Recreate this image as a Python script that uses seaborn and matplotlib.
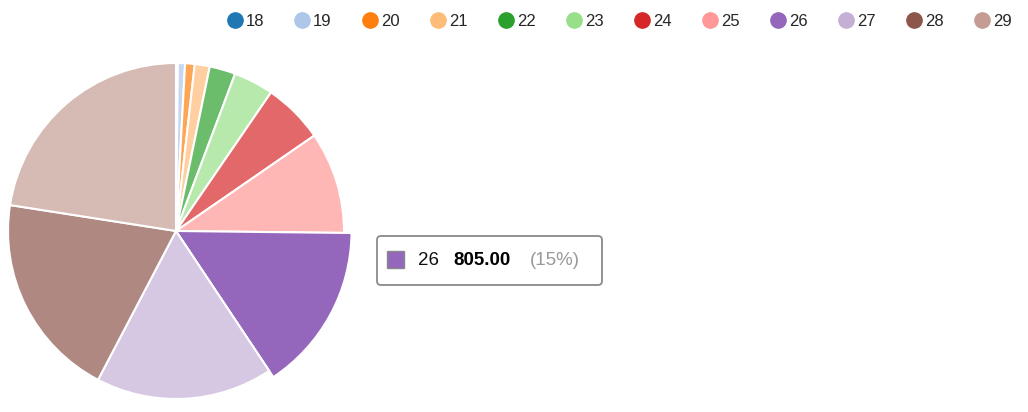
import numpy as np
import matplotlib
matplotlib.use("Agg")
import matplotlib.pyplot as plt
from matplotlib.lines import Line2D
from matplotlib.patches import FancyBboxPatch, Rectangle
import seaborn as sns

# data
categories = ["18", "19", "20", "21", "22", "23", "24", "25", "26", "27", "28", "29"]
values = [9, 36, 48, 75, 130, 200, 303, 510, 805, 887, 1030, 1173]
highlight = "26"

sns.set_theme(style="white")
plt.rcParams["font.family"] = ["Liberation Sans", "DejaVu Sans"]

palette = sns.color_palette("tab20", len(categories))
faded = [tuple(1 - 0.7 * (1 - c) for c in col) for col in palette]
slice_colors = [palette[i] if cat == highlight else faded[i]
                for i, cat in enumerate(categories)]

W, H = 1028, 412
fig = plt.figure(figsize=(W / 100, H / 100), dpi=100)

# pie axes: centre at (176, 231) px, radius 168 px
cx, cy, r = 176, 231, 168
half = 1.1 * r
ax = fig.add_axes([(cx - half) / W, (H - cy - half) / H, 2 * half / W, 2 * half / H])
wedges, _ = ax.pie(values, colors=slice_colors, startangle=90, counterclock=False,
                   wedgeprops=dict(edgecolor="white", linewidth=1.5))
for w, cat in zip(wedges, categories):
    if cat == highlight:
        w.set_radius(1.045)
ax.set_xlim(-1.1, 1.1)
ax.set_ylim(-1.1, 1.1)
ax.set_aspect("equal")
ax.axis("off")

# legend along the top
handles = [Line2D([0], [0], marker="o", linestyle="none", markersize=11,
                  markerfacecolor=palette[i], markeredgecolor=palette[i])
           for i in range(len(categories))]
fig.legend(handles, categories, loc="center right", bbox_to_anchor=(1020 / W, 1 - 21 / H),
           ncol=len(categories), frameon=False, fontsize=12,
           handletextpad=0.05, columnspacing=1.71, handlelength=1.2, borderpad=0)

# tooltip overlay in pixel coordinates
ov = fig.add_axes([0, 0, 1, 1], zorder=5)
ov.set_xlim(0, W)
ov.set_ylim(H, 0)
ov.axis("off")
idx = categories.index(highlight)
total = sum(values)
ov.add_patch(FancyBboxPatch((377, 236), 225, 49, boxstyle="round,pad=0,rounding_size=4",
                            facecolor="white", edgecolor="#8a8a8a", linewidth=1.3))
ov.add_patch(Rectangle((387, 251), 17, 17, facecolor=palette[idx], edgecolor="#888888",
                       linewidth=1))
ov.text(418, 260.5, highlight, fontsize=13.5, va="center", ha="left", color="#111111")
ov.text(453, 260.5, f"{values[idx]:.2f}", fontsize=13.5, va="center", ha="left",
        fontweight="bold", color="black")
ov.text(530, 260.5, f"({values[idx] / total:.0%})", fontsize=13.5, va="center", ha="left",
        color="#9a9a9a")

fig.savefig("out.png", dpi=100)
